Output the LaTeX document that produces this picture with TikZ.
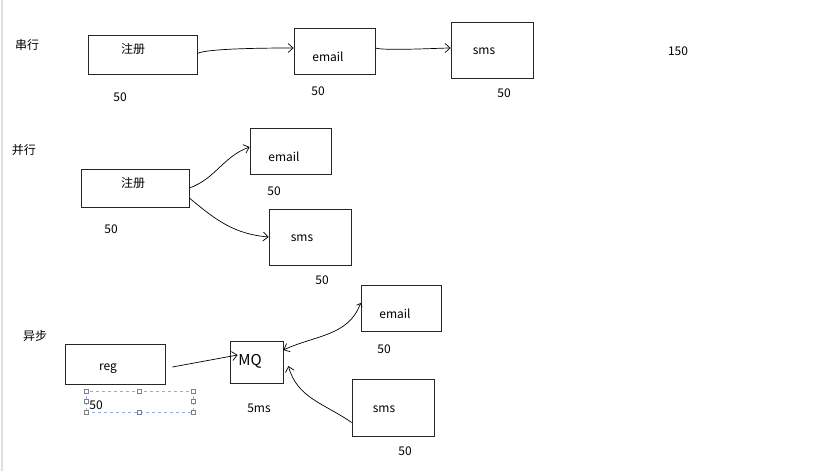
\documentclass[tikz,border=0pt]{standalone}
\usepackage{fontspec}
\setmainfont{Noto Sans CJK SC}
\usepackage{tikz}
\usetikzlibrary{arrows.meta, positioning}
\tikzstyle{box}    = [rectangle, draw=black!85, line width=0.8pt, inner sep=0pt]
\tikzstyle{txt}    = [inner sep=0pt, font=\fontsize{12}{14}\selectfont]
\tikzstyle{arrow}  = [line width=0.7pt, -{Straight Barb[length=5pt,width=9pt]}]
\tikzstyle{handle} = [rectangle, draw=black!50, fill=white, line width=0.4pt, minimum size=4pt, inner sep=0pt]

\begin{document}
\begin{tikzpicture}[x=1pt, y=-1pt, font=\fontsize{12}{14}\selectfont]
\useasboundingbox (0,0) rectangle (834,471);
\fill[white] (0,0) rectangle (834,471);
\draw[black!12, line width=2pt] (1.5,0) -- (1.5,471);

% serial
\node (serial) [txt] at (27,45) {串行};
\node (sreg) [box, minimum width=109, minimum height=39, label={[txt, xshift=-9.5pt, yshift=5.5pt]center:注册}] at (142.5,54.5) {};
\node (semail) [box, minimum width=81, minimum height=46, label={[txt, xshift=-6.5pt, yshift=-6pt]center:email}] at (334.5,51) {};
\node (ssms) [box, minimum width=82, minimum height=56, label={[txt, xshift=-8pt, yshift=-1pt]center:sms}] at (492,50) {};
\node (sregt) [txt] at (120,97) {50};
\node (semailt) [txt] at (318,91) {50};
\node (ssmst) [txt] at (504,93) {50};
\node (stotal) [txt] at (678,51) {150};

\draw [arrow] ([yshift=1pt]sreg.east) to[out=30,in=180,looseness=0.3] ([yshift=3pt]semail.west);
\draw [arrow] ([yshift=3pt]semail.east) to[out=-20,in=180,looseness=0.3] ([yshift=2pt]ssms.west);

% parallel
\node (parallel) [txt] at (24,150) {并行};
\node (preg) [box, minimum width=108, minimum height=38, label={[txt, xshift=-2pt, yshift=5pt]center:注册}] at (135,188) {};
\node (pemail) [box, minimum width=81, minimum height=46, label={[txt, xshift=-6.5pt, yshift=-6pt]center:email}] at (290.5,151) {};
\node (psms) [box, minimum width=82, minimum height=56, label={[txt, xshift=-8pt, yshift=-1pt]center:sms}] at (310,237) {};
\node (pregt) [txt] at (111,229) {50};
\node (pemailt) [txt] at (274,191) {50};
\node (psmst) [txt] at (322,280) {50};

\draw [arrow] (preg.east) to[out=20,in=200] ([yshift=4pt]pemail.west);
\draw [arrow] ([yshift=-10pt]preg.east) to[out=-40,in=175] (psms.west);

% async
\node (async) [txt] at (35,336) {异步};
\node (areg) [box, minimum width=100, minimum height=40, label={[txt, xshift=-7pt, yshift=-5pt]center:reg}] at (115,364) {};
\node (amq) [box, minimum width=53, minimum height=42, label={[inner sep=0pt, font=\fontsize{15}{17}\selectfont, xshift=-6.5pt, yshift=1pt]center:MQ}] at (256.5,362) {};
\node (aemail) [box, minimum width=80, minimum height=46, label={[txt, xshift=-6pt, yshift=-6pt]center:email}] at (401,308) {};
\node (asms) [box, minimum width=82, minimum height=57, label={[txt, xshift=-9pt, yshift=-1.5pt]center:sms}] at (393,407.5) {};
\node (sel) [draw=cyan!50!blue!45, dashed, line width=0.6pt, minimum width=107, minimum height=21, inner sep=0pt] at (139.5,401.5) {};
\foreach \a [count=\i] in {north west, north, north east, west, east, south west, south, south east}
  \node (h\i) [handle] at (sel.\a) {};
\node (aregt) [txt] at (96,405) {50};
\node (amqt) [txt] at (259,408) {5ms};
\node (aemailt) [txt] at (384,349) {50};
\node (asmst) [txt] at (405,451) {50};

\draw [arrow] ([xshift=7pt,yshift=-3pt]areg.east) -- ([xshift=8pt,yshift=7pt]amq.west);
\draw [arrow, {Straight Barb[length=3pt,width=6pt]}-{Straight Barb[length=5pt,width=9pt]}] ([yshift=5pt]aemail.west) to[out=250,in=25] ([yshift=12pt]amq.east);
\draw [arrow] ([yshift=-15pt]asms.west) to[out=145,in=-75] ([xshift=5pt,yshift=-4pt]amq.east);
\end{tikzpicture}
\end{document}
